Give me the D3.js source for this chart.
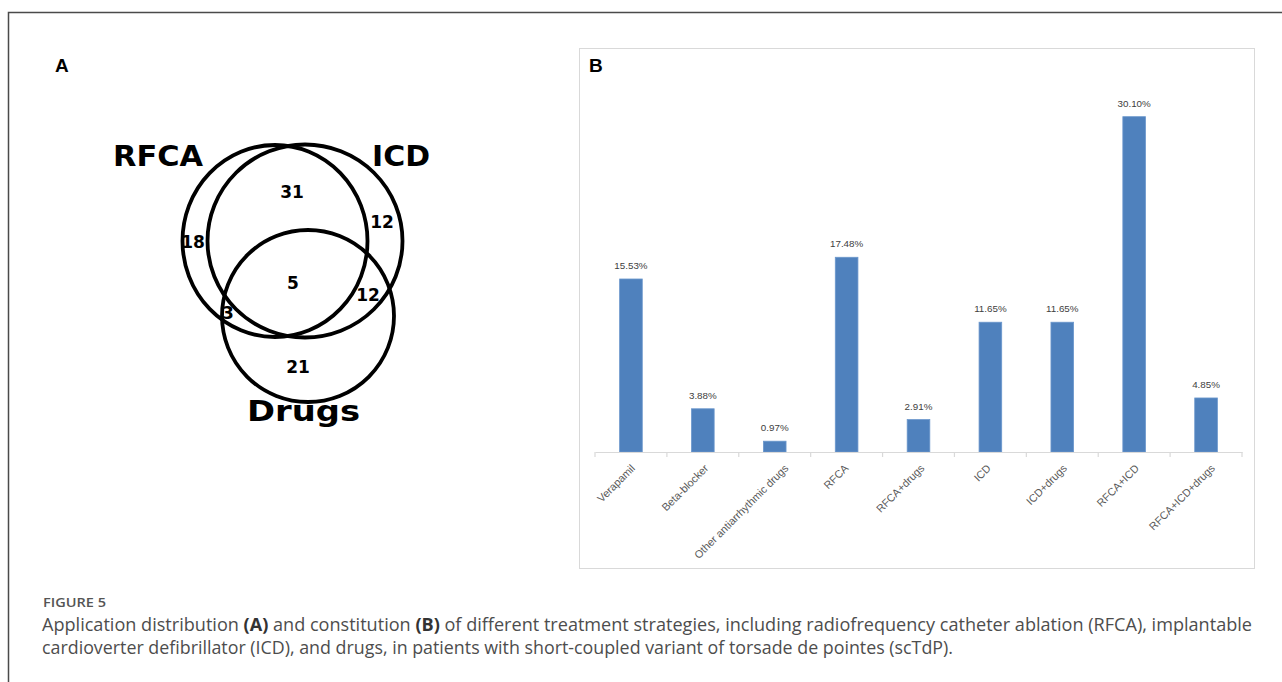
<!DOCTYPE html>
<html>
<head>
<meta charset="utf-8">
<script src="https://cdn.jsdelivr.net/npm/d3@7"></script>
<style>
  body { margin: 0; background: #fff; }
  svg { display: block; }
</style>
</head>
<body>
<script>
// ---- Data ----
// Panel B: share of each treatment strategy (percent of 103 patients)
const categories = [
  "Verapamil", "Beta-blocker", "Other antiarrhythmic drugs", "RFCA",
  "RFCA+drugs", "ICD", "ICD+drugs", "RFCA+ICD", "RFCA+ICD+drugs"
];
const percentages = [15.53, 3.88, 0.97, 17.48, 2.91, 11.65, 11.65, 30.10, 4.85];

// Panel A: Venn sets and patient counts per region
const vennSets = ["RFCA", "ICD", "Drugs"];
const vennRegions = ["RFCA", "RFCA+ICD", "ICD", "RFCA+ICD+Drugs", "ICD+Drugs", "RFCA+Drugs", "Drugs"];
const vennCounts = [18, 31, 12, 5, 12, 3, 21];

// Caption text
const captionTitle = "FIGURE 5";
const captionLine1 = [
  ["Application distribution ", false], ["(A)", true], [" and constitution ", false], ["(B)", true],
  [" of different treatment strategies, including radiofrequency catheter ablation (RFCA), implantable", false]
];
const captionLine2 = [
  ["cardioverter defibrillator (ICD), and drugs, in patients with short-coupled variant of torsade de pointes (scTdP).", false]
];

// ---- Layout ----
const W = 1282, H = 682;
const svg = d3.select("body").append("svg").attr("width", W).attr("height", H);
svg.append("rect").attr("width", W).attr("height", H).attr("fill", "#fff");

// Figure frame (top and left rules)
svg.append("path")
  .attr("d", `M8.5,${H} V12.5 H${W}`)
  .attr("fill", "none").attr("stroke", "#4a4a4a").attr("stroke-width", 1.5);

// Panel letters
svg.append("text").attr("x", 55).attr("y", 72).text("A")
  .attr("font-family", "Liberation Sans, Arial, sans-serif").attr("font-weight", "bold")
  .attr("font-size", 19).attr("fill", "#000");

// ---- Panel A: Venn diagram ----
// ellipse geometry of each set and text anchors, in page pixels
const vennShapes = {
  RFCA:  { cx: 275, cy: 241, rx: 92.5, ry: 96 },
  ICD:   { cx: 305, cy: 241, rx: 97.5, ry: 96.5 },
  Drugs: { cx: 308, cy: 316, rx: 86,   ry: 86 }
};
const vennSetLabelPos = {
  RFCA:  { x: 113, y: 166, len: 90 },
  ICD:   { x: 372, y: 166, len: 58 },
  Drugs: { x: 247, y: 421, len: 113 }
};
const vennRegionPos = {
  "RFCA": [193, 242], "RFCA+ICD": [292, 192], "ICD": [382, 222],
  "RFCA+ICD+Drugs": [293, 283], "ICD+Drugs": [368, 295],
  "RFCA+Drugs": [228, 313], "Drugs": [298, 367]
};

const venn = svg.append("g");
venn.selectAll("ellipse").data(vennSets).join("ellipse")
  .attr("cx", d => vennShapes[d].cx).attr("cy", d => vennShapes[d].cy)
  .attr("rx", d => vennShapes[d].rx).attr("ry", d => vennShapes[d].ry)
  .attr("fill", "none").attr("stroke", "#000").attr("stroke-width", 3.8);

venn.selectAll("text.set").data(vennSets).join("text").attr("class", "set")
  .attr("x", d => vennSetLabelPos[d].x).attr("y", d => vennSetLabelPos[d].y)
  .attr("textLength", d => vennSetLabelPos[d].len).attr("lengthAdjust", "spacingAndGlyphs")
  .attr("font-family", "DejaVu Sans, sans-serif").attr("font-weight", "bold")
  .attr("font-size", 28).attr("fill", "#000")
  .text(d => d);

venn.selectAll("text.count").data(vennRegions).join("text").attr("class", "count")
  .attr("x", d => vennRegionPos[d][0]).attr("y", d => vennRegionPos[d][1])
  .attr("text-anchor", "middle").attr("dominant-baseline", "central")
  .attr("font-family", "DejaVu Sans, sans-serif").attr("font-weight", "bold")
  .attr("font-size", 17).attr("fill", "#000")
  .text((d, i) => vennCounts[i]);

// ---- Panel B: bar chart ----
const panelB = svg.append("g");
panelB.append("rect").attr("x", 579.5).attr("y", 48.5).attr("width", 675).attr("height", 520)
  .attr("fill", "#fff").attr("stroke", "#d9d9d9").attr("stroke-width", 1);
panelB.append("text").attr("x", 589).attr("y", 72).text("B")
  .attr("font-family", "Liberation Sans, Arial, sans-serif").attr("font-weight", "bold")
  .attr("font-size", 19).attr("fill", "#000");

const baseY = 452;
const x = d3.scaleBand().domain(categories).range([595, 1242]).padding(0);
const y = d3.scaleLinear().domain([0, 35]).range([baseY, baseY - 35 * 11.14]);
const barW = x.bandwidth() * 0.315;

panelB.selectAll("rect.bar").data(categories).join("rect").attr("class", "bar")
  .attr("x", d => x(d) + (x.bandwidth() - barW) / 2)
  .attr("y", (d, i) => y(percentages[i]))
  .attr("width", barW)
  .attr("height", (d, i) => baseY - y(percentages[i]))
  .attr("fill", "#4f81bd").attr("stroke", "#6b97cc").attr("stroke-width", 0.8);

panelB.selectAll("text.val").data(categories).join("text").attr("class", "val")
  .attr("x", d => x(d) + x.bandwidth() / 2)
  .attr("y", (d, i) => y(percentages[i]) - 10)
  .attr("text-anchor", "middle")
  .attr("font-family", "Liberation Sans, Arial, sans-serif").attr("font-size", 9.8)
  .attr("fill", "#404040")
  .text((d, i) => percentages[i].toFixed(2) + "%");

// category axis: baseline with ticks at band boundaries
const axis = d3.axisBottom(x).tickSize(0).tickFormat("");
const axisG = panelB.append("g").attr("transform", `translate(0,${baseY})`).call(axis);
axisG.select(".domain").attr("stroke", "#d9d9d9").attr("stroke-width", 1.2);
axisG.selectAll(".tick").remove();
const boundaries = categories.map(c => x(c)).concat([x.range()[1]]);
axisG.selectAll("line.tk").data(boundaries).join("line").attr("class", "tk")
  .attr("x1", d => d).attr("x2", d => d).attr("y1", 0).attr("y2", 5)
  .attr("stroke", "#d9d9d9").attr("stroke-width", 1.2);

// rotated category labels; longer labels sit a little further right of the band centre
const catLabels = panelB.selectAll("text.cat").data(categories).join("text").attr("class", "cat")
  .attr("text-anchor", "end")
  .attr("font-family", "Liberation Sans, Arial, sans-serif").attr("font-size", 10.8)
  .attr("fill", "#595959")
  .text(d => d);
catLabels.attr("transform", function (d) {
  const len = this.getComputedTextLength();
  const shift = len * 0.12 - 1;
  return `translate(${x(d) + x.bandwidth() / 2 + shift},${baseY + 17}) rotate(-45)`;
});

// ---- Caption ----
svg.append("text").attr("x", 43).attr("y", 607).text(captionTitle)
  .attr("textLength", 63).attr("lengthAdjust", "spacingAndGlyphs")
  .attr("font-family", "Open Sans, sans-serif").attr("font-weight", 600)
  .attr("font-size", 13).attr("fill", "#555");

function captionLine(parts, yPos, len) {
  const t = svg.append("text").attr("x", 42).attr("y", yPos)
    .attr("font-family", "Open Sans, sans-serif").attr("font-size", 17.3).attr("fill", "#4d4d4d")
    .attr("textLength", len).attr("lengthAdjust", "spacingAndGlyphs");
  t.selectAll("tspan").data(parts).join("tspan")
    .attr("font-weight", d => d[1] ? 700 : 400)
    .attr("fill", d => d[1] ? "#333" : "#4d4d4d")
    .text(d => d[0]);
  return t;
}
captionLine(captionLine1, 631, 1210);
captionLine(captionLine2, 654, 911);
</script>
</body>
</html>
